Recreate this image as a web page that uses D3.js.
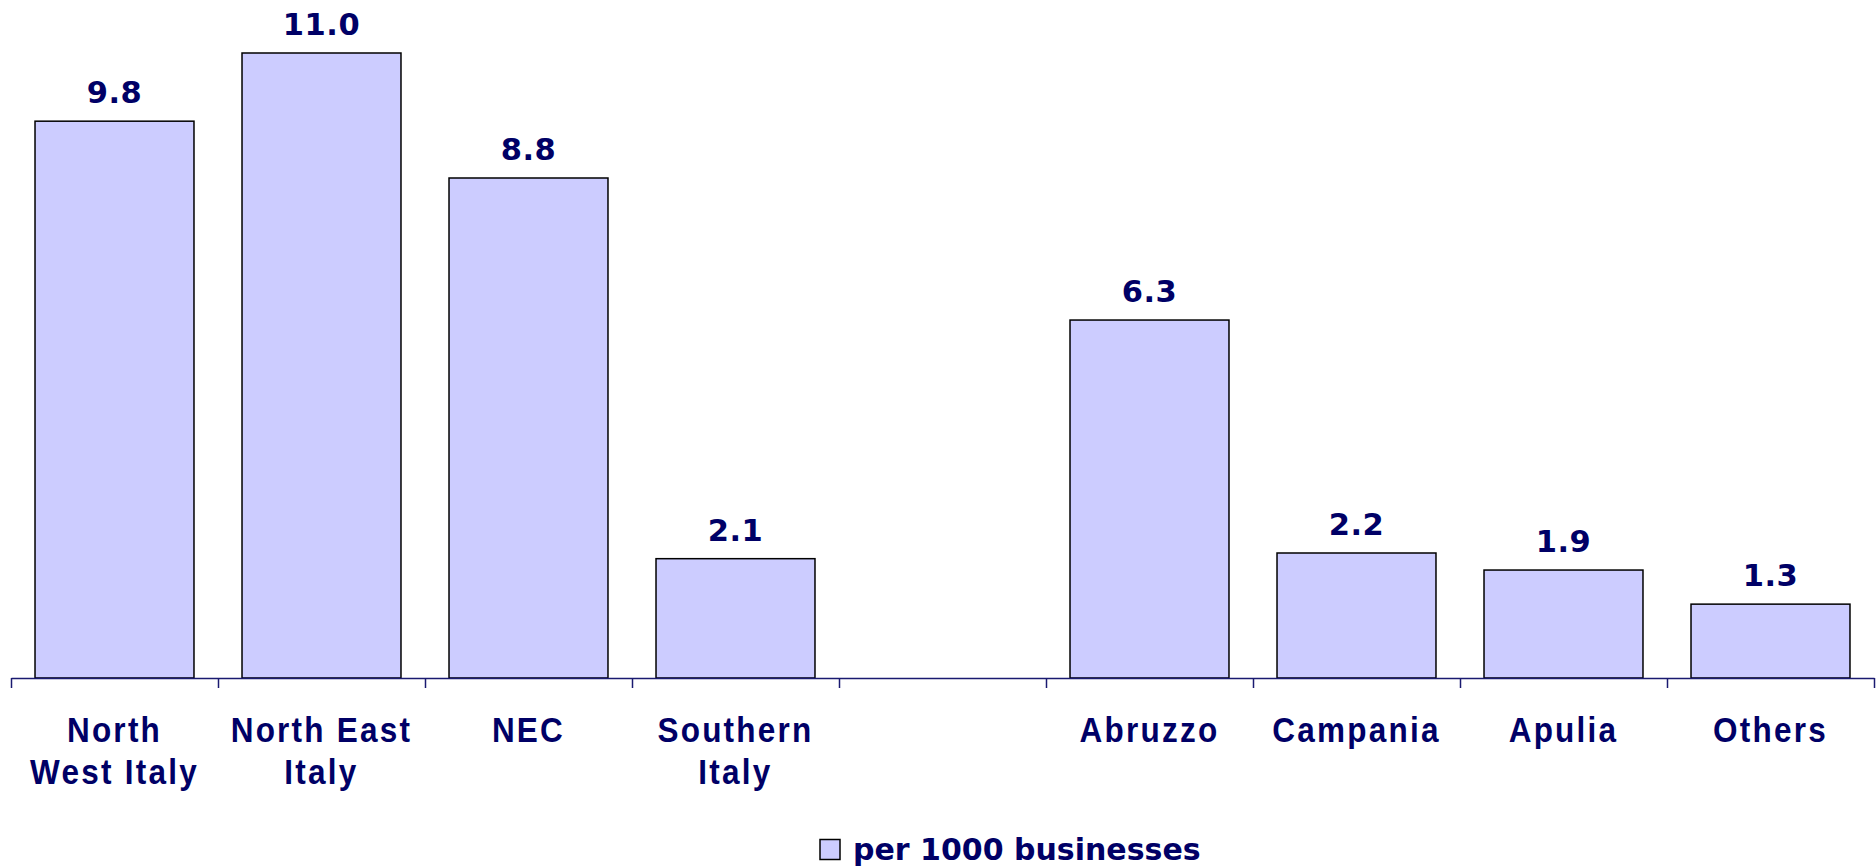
<!DOCTYPE html>
<html><head><meta charset="utf-8">
<script src="https://cdn.jsdelivr.net/npm/d3@7"></script>
<style>body{margin:0;background:#fff;}svg{display:block;}</style>
</head><body>
<svg id="chart" width="1876" height="868"></svg>
<script>
const categories = ["North West Italy", "North East Italy", "NEC", "Southern Italy", "", "Abruzzo", "Campania", "Apulia", "Others"];
const categoryLines = [["North", "West Italy"], ["North East", "Italy"], ["NEC"], ["Southern", "Italy"], [], ["Abruzzo"], ["Campania"], ["Apulia"], ["Others"]];
const values = [9.8, 11.0, 8.8, 2.1, null, 6.3, 2.2, 1.9, 1.3];
const seriesName = "per 1000 businesses";

const svg = d3.select("#chart");
const left = 11, right = 1874, axisY = 678;
const navy = "#000066";

const x = d3.scaleBand().domain(d3.range(categories.length)).range([left, right]).paddingInner(0.232).paddingOuter(0.116);
const xEdge = d3.scaleLinear().domain([0, categories.length]).range([left, right]);
const y = d3.scaleLinear().domain([0, 11]).range([axisY, 53]);

const data = categories.map((c, i) => ({i, c, v: values[i], lines: categoryLines[i]})).filter(d => d.v != null);

svg.append("g").selectAll("rect").data(data).join("rect")
  .attr("x", d => x(d.i)).attr("width", x.bandwidth())
  .attr("y", d => y(d.v)).attr("height", d => y(0) - y(d.v))
  .attr("fill", "#CCCCFF").attr("stroke", "#000").attr("stroke-width", 1.5);

svg.append("g").selectAll("text").data(data).join("text")
  .attr("x", d => x(d.i) + x.bandwidth() / 2).attr("y", d => y(d.v) - 18)
  .attr("text-anchor", "middle").attr("fill", navy)
  .attr("font-family", "DejaVu Sans").attr("font-weight", "bold").attr("font-size", 30.5)
  .attr("letter-spacing", 0.5)
  .text(d => d.v.toFixed(1));

const axis = d3.axisBottom(xEdge).tickValues(d3.range(categories.length + 1)).tickFormat("").tickSize(10).tickSizeOuter(0);
const ag = svg.append("g").attr("transform", `translate(0,${axisY})`).call(axis);
ag.selectAll("path,line").attr("stroke", "#1a1a70").attr("stroke-width", 1.5);

const lab = svg.append("g");
categories.forEach((c, i) => {
  const cx = x(i) + x.bandwidth() / 2;
  categoryLines[i].forEach((ln, k) => {
    lab.append("text")
      .attr("transform", `translate(${cx},${741.5 + k * 42.5}) scale(0.9,1)`)
      .attr("text-anchor", "middle").attr("fill", navy)
      .attr("font-family", "Liberation Sans").attr("font-weight", "bold").attr("font-size", 35)
      .attr("letter-spacing", 2.5)
      .text(ln);
  });
});

const lg = svg.append("g");
lg.append("rect").attr("x", 820).attr("y", 839.5).attr("width", 20).attr("height", 20)
  .attr("fill", "#CCCCFF").attr("stroke", "#000").attr("stroke-width", 1.5);
lg.append("text").attr("x", 853).attr("y", 859.5).attr("fill", navy)
  .attr("font-family", "DejaVu Sans").attr("font-weight", "bold").attr("font-size", 30)
  .text(seriesName);
</script>
</body></html>
